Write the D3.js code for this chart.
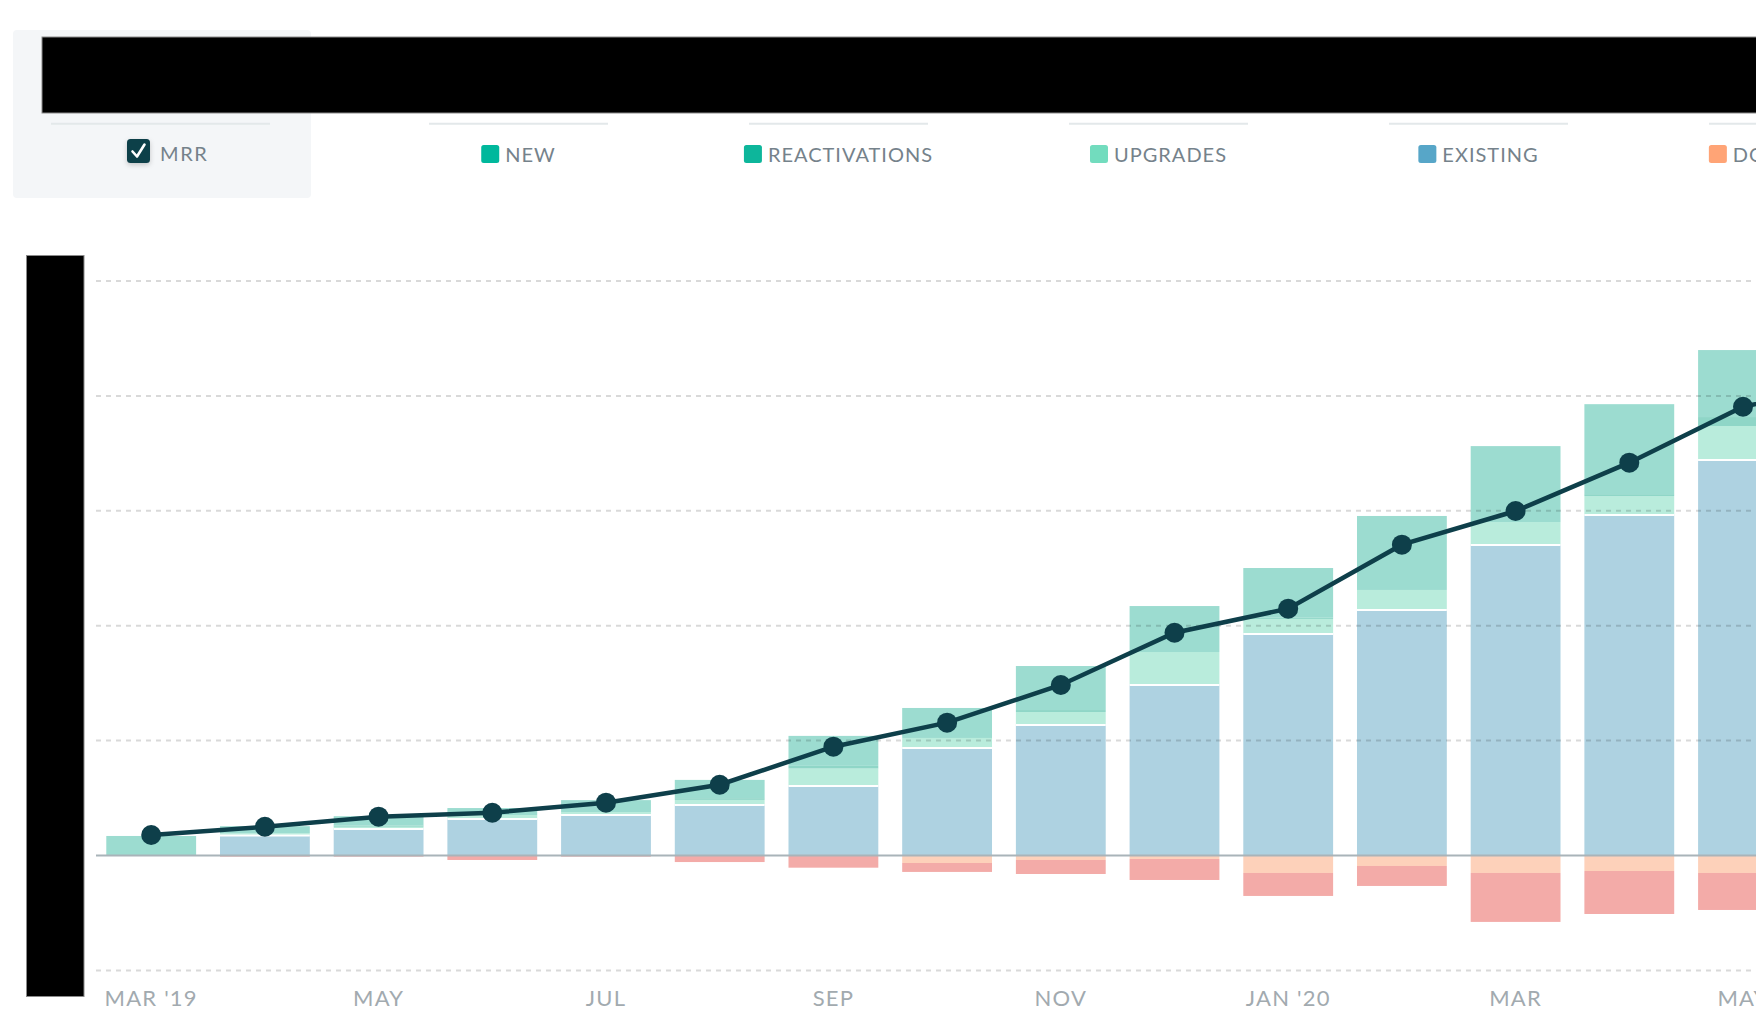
<!DOCTYPE html>
<html>
<head>
<meta charset="utf-8">
<script src="https://cdn.jsdelivr.net/npm/d3@7"></script>
<style>
  html, body { margin: 0; padding: 0; background: #ffffff; }
  svg { display: block; }
  text { font-family: Lato, "Open Sans", sans-serif; }
</style>
</head>
<body>
<svg id="chart" width="1756" height="1033"></svg>
<script>
// ---------- DATA (units: $k, one gridline = 10) ----------
const months = ["Mar '19","Apr '19","May '19","Jun '19","Jul '19","Aug '19","Sep '19","Oct '19","Nov '19","Dec '19","Jan '20","Feb '20","Mar '20","Apr '20","May '20","Jun '20"];
const tickLabels = ["MAR '19","","MAY","","JUL","","SEP","","NOV","","JAN '20","","MAR","","MAY",""];
const existing      = [0,    1.75, 2.3,  3.18, 3.52, 4.4,  6.05, 9.36, 11.36, 14.84, 19.28, 21.37, 27.02, 29.63, 34.42, null];
const upgrades      = [0,    0.2,  0.2,  0.34, 0.26, 0.44, 1.52, 0.87, 1.13,  2.87,  1.31,  1.74,  2.0,   1.65,  2.96,  null];
const reactivations = [0,    0,    0.12, 0,    0,    0.15, 0.23, 0,    0.17,  0,     0.1,   0,     0,     0.17,  0.78,  null];
const newMrr        = [1.7,  0.6,  0.8,  0.61, 1.04, 1.59, 2.61, 2.61, 3.83,  4.0,   4.33,  6.44,  6.61,  7.83,  5.83,  null];
const downgrades    = [0,    0,    0,    0,    0,    0,    0,    0.65, 0.39,  0.3,   1.52,  0.91,  1.52,  1.35,  1.52,  null];
const churn         = [0,    0.1,  0.1,  0.39, 0.1,  0.57, 1.06, 0.78, 1.22,  1.83,  2.0,   1.74,  4.26,  3.74,  3.22,  null];
const mrr           = [1.78, 2.5,  3.38, 3.72, 4.6,  6.16, 9.47, 11.56, 14.84, 19.39, 21.48, 27.05, 29.98, 34.19, 39.06, 41.1];
const gridValues = [-10, 10, 20, 30, 40, 50];

const legendItems = ["NEW", "REACTIVATIONS", "UPGRADES", "EXISTING", "DOWNGRADES", "CHURN"];
const legendColors = ["#00b89c", "#0db69b", "#72dcbe", "#57a6c8", "#ffa476", "#f1716b"];

const seriesKeys = ["existing", "upgrades", "reactivations", "new", "downgrades", "churn"];
const barColors = {existing:"#aed2e1", upgrades:"#b9ecdc", reactivations:"#8fd6c7", new:"#9cdcd0", downgrades:"#fdd1ba", churn:"#f3aba8"};

// ---------- BUILD ----------
const svg = d3.select("#chart");
const W = 1756, H = 1033;

const rows = months.map((m, i) => ({
  month: m,
  existing: existing[i], upgrades: upgrades[i], reactivations: reactivations[i], new: newMrr[i],
  downgrades: downgrades[i] == null ? null : -downgrades[i],
  churn: churn[i] == null ? null : -churn[i],
  mrr: mrr[i]
}));
const barRows = rows.filter(r => r.existing != null);

const x = d3.scaleBand().domain(months).range([94.35, 94.35 + 113.7 * months.length])
  .paddingInner(0.21).paddingOuter(0.105);
const y = d3.scaleLinear().domain([-10, 50]).range([970.4, 281]);

// MRR legend panel
svg.append("rect").attr("x", 13).attr("y", 30).attr("width", 298).attr("height", 168)
  .attr("rx", 4).attr("fill", "#f4f6f8");

// legend separators
const colCenters = [160.5].concat(legendItems.map((d, i) => 518.5 + i * 320));
svg.selectAll("line.sep").data(colCenters).join("line").attr("class", "sep")
  .attr("x1", (d, i) => d - (i === 0 ? 109.5 : 89.5)).attr("x2", (d, i) => d + (i === 0 ? 109.5 : 89.5))
  .attr("y1", 123.7).attr("y2", 123.7).attr("stroke", "#e3e8ea").attr("stroke-width", 2);

// defs: shadow
const defs = svg.append("defs");
const f = defs.append("filter").attr("id", "sh").attr("x", "-50%").attr("y", "-50%").attr("width", "200%").attr("height", "200%");
f.append("feDropShadow").attr("dx", 0).attr("dy", 2).attr("stdDeviation", 2.5).attr("flood-color", "#000").attr("flood-opacity", 0.2);

const legendFont = 20, legendSpacing = 1.0, legendFill = "#75828b";

// MRR legend (checkbox)
const mrrG = svg.append("g");
const mStart = 127;
mrrG.append("rect").attr("x", mStart).attr("y", 139).attr("width", 23).attr("height", 24).attr("rx", 3.5)
  .attr("fill", "#0f3f4a").attr("filter", "url(#sh)");
mrrG.append("path").attr("d", `M${mStart + 5.5},${151.5} L${mStart + 10},${156.5} L${mStart + 17.5},${144.5}`)
  .attr("fill", "none").attr("stroke", "#fff").attr("stroke-width", 2.6).attr("stroke-linecap", "round").attr("stroke-linejoin", "round");
mrrG.append("text").text("MRR").attr("x", mStart + 33).attr("y", 161)
  .attr("font-size", legendFont).attr("letter-spacing", 1.6).attr("fill", legendFill);

// other legend items
legendItems.forEach((name, i) => {
  const g = svg.append("g");
  const t = g.append("text").text(name).attr("y", 162)
    .attr("font-size", legendFont).attr("letter-spacing", legendSpacing).attr("fill", legendFill);
  const tw = t.node().getComputedTextLength();
  const start = colCenters[i + 1] - (18 + 6 + tw) / 2;
  g.append("rect").attr("x", start).attr("y", 145).attr("width", 18).attr("height", 18).attr("rx", 2.5)
    .attr("fill", legendColors[i]);
  t.attr("x", start + 24);
});

// stacked bars
const stack = d3.stack().keys(seriesKeys).offset(d3.stackOffsetDiverging)
  .value((d, k) => d[k] || 0);
const series = stack(barRows);
svg.append("g").selectAll("g").data(series).join("g")
  .attr("fill", s => barColors[s.key])
  .selectAll("rect").data(s => s).join("rect")
  .attr("x", d => x(d.data.month))
  .attr("width", x.bandwidth())
  .attr("y", d => y(Math.max(d[0], d[1])))
  .attr("height", d => Math.abs(y(d[0]) - y(d[1])));

// white separators above existing segment
svg.append("g").selectAll("line").data(barRows.filter(d => d.existing > 0)).join("line")
  .attr("x1", d => x(d.month)).attr("x2", d => x(d.month) + x.bandwidth())
  .attr("y1", d => y(d.existing)).attr("y2", d => y(d.existing))
  .attr("stroke", "#fff").attr("stroke-width", 2);

// gridlines (drawn over bars, translucent)
svg.append("g").selectAll("line").data(gridValues).join("line")
  .attr("x1", 96).attr("x2", W).attr("y1", d => y(d)).attr("y2", d => y(d))
  .attr("stroke", "rgba(0,0,0,0.15)").attr("stroke-width", 2).attr("stroke-dasharray", "5,5");

// baseline
svg.append("line").attr("x1", 96).attr("x2", W).attr("y1", y(0)).attr("y2", y(0))
  .attr("stroke", "#a9b4b9").attr("stroke-width", 2.2);

// MRR line + dots
const cx = d => x(d.month) + x.bandwidth() / 2;
svg.append("path").datum(rows)
  .attr("d", d3.line().x(cx).y(d => y(d.mrr)))
  .attr("fill", "none").attr("stroke", "#0e3f4a").attr("stroke-width", 4.5);
svg.append("g").selectAll("circle").data(rows).join("circle")
  .attr("cx", cx).attr("cy", d => y(d.mrr)).attr("r", 10).attr("fill", "#0e3f4a");

// x-axis labels
svg.append("g").selectAll("text").data(rows.map((r, i) => ({m: r.month, label: tickLabels[i]})).filter(d => d.label))
  .join("text")
  .attr("x", d => x(d.m) + x.bandwidth() / 2).attr("y", 1006)
  .attr("text-anchor", "middle").attr("font-size", 22).attr("letter-spacing", 1.2)
  .attr("fill", "#a2aaaf").text(d => d.label);

// redaction boxes (as in reference)
svg.append("rect").attr("x", 42).attr("y", 37).attr("width", W).attr("height", 76)
  .attr("fill", "#000").attr("stroke", "#8a8a8a").attr("stroke-width", 1);
svg.append("rect").attr("x", 26.5).attr("y", 255.5).attr("width", 57.5).attr("height", 741)
  .attr("fill", "#000").attr("stroke", "#8a8a8a").attr("stroke-width", 1);
</script>
</body>
</html>
